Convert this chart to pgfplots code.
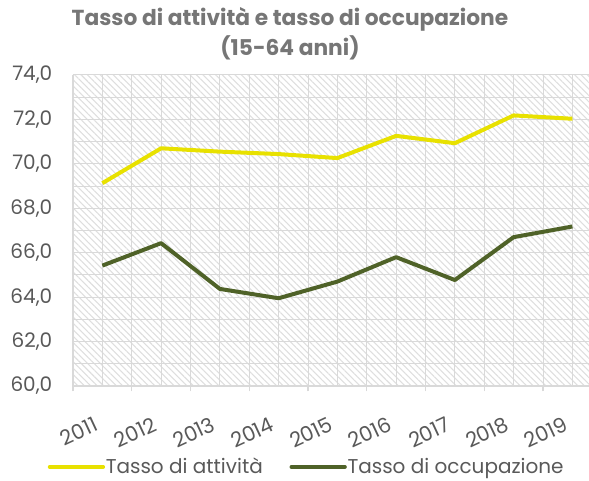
\documentclass[border=0pt]{standalone}
\usepackage{pgfplots}
\pgfplotsset{compat=1.18}
\usepackage{fontspec}
\setmainfont{Poppins}
\usetikzlibrary{patterns.meta}
\definecolor{txtgray}{RGB}{89,89,89}
\definecolor{titlegray}{RGB}{118,118,118}
\definecolor{gridgray}{RGB}{217,217,217}
\definecolor{hatchgray}{RGB}{222,222,222}
\definecolor{cyellow}{RGB}{232,225,0}
\definecolor{cgreen}{RGB}{79,98,40}
\begin{document}
\begin{tikzpicture}
\useasboundingbox (-54.75pt,-71.25pt) rectangle (387pt,289.5pt);
\begin{axis}[
  at={(0,0)}, anchor=south west,
  scale only axis,
  width=387pt, height=233.25pt,
  xmin=-0.5, xmax=8.283,
  ymin=60, ymax=74,
  axis lines*=left,
  axis line style={-, draw=gridgray, line width=0.8pt},
  axis background/.style={pattern={Lines[angle=-45,distance=3.4pt,line width=0.8pt]}, pattern color=hatchgray},
  xtick={0,...,8},
  xticklabels={2011,2012,2013,2014,2015,2016,2017,2018,2019},
  minor xtick={-0.5,0.5,...,8.5},
  ytick={60,62,...,74},
  minor ytick={61,63,...,73},
  grid=both,
  major grid style={draw=gridgray, line width=0.75pt},
  minor grid style={draw=gridgray, line width=0.75pt},
  major tick length=0pt,
  minor tick length=4pt,
  tick align=outside,
  minor x tick style={draw=gridgray, line width=0.8pt},
  minor y tick style={draw=none},
  yticklabel style={font=\fontsize{15}{17}\selectfont, text=txtgray, xshift=-12pt},
  xticklabel style={font=\fontsize{15.5}{17}\selectfont, text=txtgray, rotate=25, anchor=north east, yshift=-14pt, xshift=-12.5pt},
  /pgf/number format/.cd, fixed, fixed zerofill, precision=1, use comma, assume math mode=true,
  /pgfplots/.cd,
  legend columns=2,
  legend style={at={(0.4535,-0.26)}, anchor=center, draw=none, fill=none,
    font=\fontsize{15}{17}\selectfont, text=txtgray,
    /tikz/every even column/.append style={column sep=18pt},
    /tikz/every odd column/.append style={column sep=-1.5pt}},
  legend image code/.code={\draw[#1, line cap=round] (0pt,0pt) -- (40pt,0pt);},
]
\addplot[cyellow, line width=3pt, line join=round] coordinates {
  (0,69.13) (1,70.70) (2,70.55) (3,70.44) (4,70.26) (5,71.26) (6,70.93) (7,72.18) (8,72.03)};
\addlegendentry{Tasso di attività}
\addplot[cgreen, line width=3pt, line join=round] coordinates {
  (0,65.42) (1,66.43) (2,64.37) (3,63.95) (4,64.70) (5,65.80) (6,64.77) (7,66.70) (8,67.18)};
\addlegendentry{Tasso di occupazione}
\end{axis}
\node[font=\bfseries\fontsize{16.3}{19}\selectfont, text=titlegray] at (162.75pt,275pt) {Tasso di attività e tasso di occupazione};
\node[font=\bfseries\fontsize{16.3}{19}\selectfont, text=titlegray] at (162.75pt,253.5pt) {(15-64 anni)};
\end{tikzpicture}
\end{document}
